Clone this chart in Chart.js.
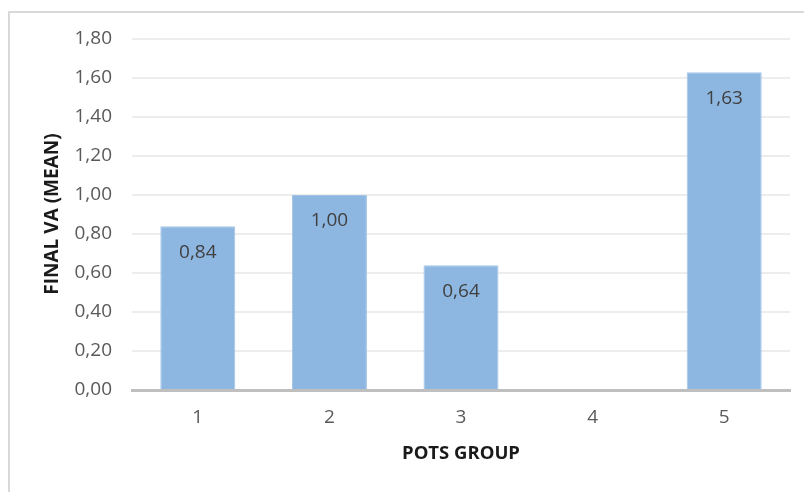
<!DOCTYPE html>
<html>
<head>
<meta charset="utf-8">
<script src="https://cdn.jsdelivr.net/npm/chart.js@4/dist/chart.umd.min.js"></script>
<style>
  html, body { margin: 0; padding: 0; background: #fff; }
  #wrap { position: relative; width: 804px; height: 492px; overflow: hidden; }
  #frame { position: absolute; left: 8px; top: 11px; width: 900px; height: 600px;
           border: 2px solid #D9D9D9; box-sizing: border-box; }
  canvas { position: absolute; left: 0; top: 0; }
</style>
</head>
<body>
<div id="wrap">
  <div id="frame"></div>
  <canvas id="c" width="804" height="492"></canvas>
</div>
<script>
// Pot groups and mean final visual acuity
const groups = ['1', '2', '3', '4', '5'];
const meanVA = [0.84, 1.00, 0.64, null, 1.63];
const yTicks = [0, 0.2, 0.4, 0.6, 0.8, 1.0, 1.2, 1.4, 1.6, 1.8];

const xTitle = 'POTS GROUP';
const yTitle = 'FINAL VA (MEAN)';
const FONT = '"Open Sans", "Liberation Sans", sans-serif';

const fmt = v => v.toFixed(2).replace('.', ',');

// Value labels drawn inside the top of each bar
const barLabels = {
  id: 'barLabels',
  afterDatasetsDraw(chart) {
    const ctx = chart.ctx;
    const meta = chart.getDatasetMeta(0);
    ctx.save();
    ctx.font = '19px ' + FONT;
    ctx.fillStyle = '#404040';
    ctx.textAlign = 'center';
    ctx.textBaseline = 'middle';
    meta.data.forEach((bar, i) => {
      const v = meanVA[i];
      if (v == null) return;
      ctx.fillText(fmt(v), bar.x, bar.y + 26);
    });
    ctx.restore();
  }
};

// Axis titles placed beside the plot
const axisTitles = {
  id: 'axisTitles',
  afterDraw(chart) {
    const ctx = chart.ctx;
    const area = chart.chartArea;
    ctx.save();
    ctx.fillStyle = '#1a1a1a';
    ctx.textAlign = 'center';
    ctx.textBaseline = 'middle';
    ctx.font = 'bold 18.5px ' + FONT;
    ctx.fillText(xTitle, (area.left + area.right) / 2, 454);
    ctx.font = 'bold 19px ' + FONT;
    ctx.translate(53, 214);
    ctx.rotate(-Math.PI / 2);
    ctx.fillText(yTitle, 0, 0);
    ctx.restore();
  }
};

new Chart(document.getElementById('c'), {
  type: 'bar',
  data: {
    labels: groups,
    datasets: [{
      data: meanVA,
      backgroundColor: '#8DB7E1',
      borderColor: '#A3C5E8',
      borderWidth: 1,
      categoryPercentage: 1.0,
      barPercentage: 0.57
    }]
  },
  options: {
    responsive: false,
    animation: false,
    devicePixelRatio: 1,
    layout: { padding: { left: 0, top: 39, right: 14, bottom: 0 } },
    plugins: { legend: { display: false }, tooltip: { enabled: false } },
    scales: {
      x: {
        grid: { display: false, drawTicks: false },
        border: { color: '#BFBFBF', width: 3 },
        ticks: { color: '#595959', font: { family: FONT, size: 19 }, padding: 16 },
        afterFit(scale) { scale.height = 102; }
      },
      y: {
        min: 0, max: 1.8,
        afterBuildTicks(scale) { scale.ticks = yTicks.map(v => ({ value: v })); },
        grid: { color: '#EDEDED', lineWidth: 2, drawTicks: false },
        border: { display: false },
        ticks: {
          color: '#595959', font: { family: FONT, size: 19 }, padding: 20,
          callback: v => fmt(v)
        },
        afterFit(scale) { scale.width = 132; }
      }
    }
  },
  plugins: [barLabels, axisTitles]
});
</script>
</body>
</html>
